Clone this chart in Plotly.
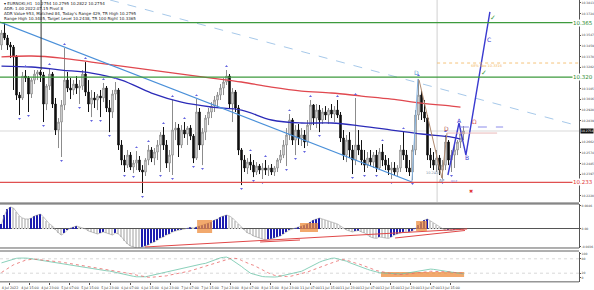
import plotly.graph_objects as go

# ---------------- data (EURNOKi, H1) ----------------
N = 155
bars = list(range(N))
first_open = 10.3465
high = [
 10.3589,10.3655,10.3548,10.3490,10.3465,10.3382,10.3076,10.3242,10.3258,10.3208,
 10.3192,10.3258,10.3258,10.3258,10.3242,10.3142,10.3275,10.3242,10.3027,10.2861,
 10.3010,10.3440,10.3242,10.3192,10.3175,10.3208,10.3175,10.3258,10.3324,10.3175,
 10.3093,10.3076,10.3060,10.3093,10.3151,10.3126,10.3010,10.3093,10.3159,10.3109,
 10.2679,10.2555,10.2597,10.2580,10.2514,10.2588,10.2547,10.2472,10.2530,10.2638,
 10.2621,10.2613,10.2679,10.2745,10.2787,10.2679,10.2597,10.3010,10.2828,10.2812,
 10.2803,10.2828,10.2795,10.2803,10.2729,10.3018,10.2944,10.2778,10.2886,10.2944,
 10.2993,10.3043,10.3076,10.3142,10.3192,10.3258,10.3225,10.3109,10.3093,10.2969,
 10.2613,10.2555,10.2530,10.2563,10.2514,10.2497,10.2481,10.2489,10.2514,10.2472,
 10.2481,10.2464,10.2530,10.2597,10.2679,10.2778,10.2894,10.2861,10.2803,10.2812,
 10.2778,10.2762,10.2845,10.3010,10.2977,10.2977,10.2969,10.2944,10.2960,10.2944,
 10.2977,10.2960,10.3010,10.2911,10.2762,10.2721,10.2745,10.2638,10.3027,10.2762,
 10.2679,10.2597,10.2580,10.2597,10.2580,10.2597,10.2613,10.2646,10.2555,10.2530,
 10.2497,10.2497,10.2472,10.2638,10.2745,10.2597,10.2514,10.2638,10.2927,10.3184,
 10.3093,10.3010,10.2886,10.2613,10.2580,10.2597,10.2555,10.2514,10.2721,10.2679,
 10.2597,10.2638,10.2679,10.2778,10.2795]
low = [
 10.3424,10.3506,10.3424,10.3357,10.3093,10.3010,10.2886,10.3010,10.3159,10.2911,
 10.3027,10.3142,10.3175,10.3159,10.2828,10.2927,10.3093,10.2944,10.2721,10.2613,
 10.2539,10.2927,10.3076,10.3018,10.3051,10.3060,10.2977,10.3093,10.3043,10.2911,
 10.2869,10.2944,10.2927,10.2869,10.2993,10.2911,10.2745,10.2861,10.3010,10.2597,
 10.2472,10.2415,10.2448,10.2431,10.2406,10.2431,10.2415,10.2241,10.2382,10.2472,
 10.2497,10.2472,10.2514,10.2415,10.2597,10.2448,10.2415,10.2390,10.2679,10.2539,
 10.2613,10.2696,10.2638,10.2679,10.2489,10.2514,10.2597,10.2472,10.2679,10.2803,
 10.2861,10.2911,10.2944,10.3010,10.3051,10.3134,10.2944,10.2828,10.2911,10.2555,
 10.2307,10.2415,10.2398,10.2431,10.2373,10.2390,10.2398,10.2357,10.2390,10.2382,
 10.2390,10.2382,10.2415,10.2489,10.2530,10.2464,10.2679,10.2638,10.2555,10.2638,
 10.2630,10.2613,10.2630,10.2762,10.2803,10.2778,10.2745,10.2812,10.2845,10.2812,
 10.2861,10.2828,10.2861,10.2663,10.2514,10.2497,10.2530,10.2398,10.2472,10.2555,
 10.2472,10.2415,10.2448,10.2464,10.2448,10.2415,10.2431,10.2464,10.2431,10.2390,
 10.2357,10.2390,10.2382,10.2415,10.2514,10.2415,10.2382,10.2348,10.2555,10.2845,
 10.2845,10.2828,10.2514,10.2448,10.2431,10.2415,10.2390,10.2357,10.2431,10.2472,
 10.2415,10.2448,10.2555,10.2613,10.2679]
close = [
 10.3564,10.3523,10.3465,10.3448,10.3366,10.3051,10.3027,10.3208,10.3192,10.3060,
 10.3175,10.3225,10.3242,10.3217,10.2977,10.3126,10.3225,10.2977,10.2762,10.2828,
 10.2969,10.3175,10.3109,10.3093,10.3142,10.3109,10.3126,10.3225,10.3076,10.2977,
 10.3027,10.3010,10.3043,10.3027,10.3109,10.2944,10.2911,10.3060,10.3093,10.2638,
 10.2514,10.2472,10.2555,10.2456,10.2489,10.2514,10.2431,10.2415,10.2514,10.2597,
 10.2530,10.2580,10.2638,10.2721,10.2638,10.2489,10.2555,10.2762,10.2778,10.2638,
 10.2762,10.2729,10.2778,10.2712,10.2530,10.2911,10.2638,10.2745,10.2861,10.2911,
 10.2960,10.3010,10.3051,10.3109,10.3159,10.3208,10.2977,10.3076,10.2944,10.2597,
 10.2514,10.2448,10.2497,10.2472,10.2415,10.2464,10.2431,10.2448,10.2431,10.2448,
 10.2415,10.2448,10.2514,10.2555,10.2638,10.2721,10.2845,10.2679,10.2762,10.2696,
 10.2721,10.2663,10.2803,10.2969,10.2861,10.2927,10.2845,10.2911,10.2886,10.2927,
 10.2894,10.2927,10.2886,10.2696,10.2555,10.2679,10.2597,10.2514,10.2638,10.2597,
 10.2514,10.2472,10.2530,10.2497,10.2555,10.2448,10.2580,10.2514,10.2472,10.2431,
 10.2448,10.2415,10.2448,10.2597,10.2555,10.2448,10.2415,10.2597,10.2886,10.3051,
 10.2911,10.2861,10.2555,10.2514,10.2472,10.2530,10.2431,10.2472,10.2663,10.2514,
 10.2555,10.2597,10.2663,10.2729,10.2754]

# moving averages (read every 10 bars)
ma_bars = [0, 10, 20, 30, 40, 50, 60, 70, 80, 90, 100, 110, 120, 130, 140, 150, 153]
ma_red = [10.3366, 10.3374, 10.3357, 10.3324, 10.3291, 10.3258, 10.3225, 10.3192, 10.3159,
          10.3117, 10.3084, 10.3068, 10.3043, 10.3018, 10.2985, 10.2960, 10.2952]
ma_blue = [10.3291, 10.3283, 10.3258, 10.3233, 10.3175, 10.3068, 10.2993, 10.2952, 10.2927,
           10.2845, 10.2820, 10.2820, 10.2795, 10.2762, 10.2729, 10.2704, 10.2687]

# Awesome Oscillator
ao = [
 0.0010,0.0028,0.0040,0.0044,0.0042,0.0034,0.0026,0.0022,0.0020,0.0020,
 0.0022,0.0026,0.0028,0.0030,0.0024,0.0016,0.0010,0.0006,-0.0002,-0.0008,
 -0.0012,-0.0008,-0.0002,0.0002,0.0004,0.0006,0.0004,0.0002,0.0000,-0.0004,
 -0.0006,-0.0008,-0.0010,-0.0008,-0.0006,-0.0008,-0.0010,-0.0012,-0.0008,-0.0010,
 -0.0016,-0.0024,-0.0030,-0.0034,-0.0036,-0.0038,-0.0038,-0.0036,-0.0034,-0.0032,
 -0.0028,-0.0026,-0.0022,-0.0018,-0.0016,-0.0012,-0.0010,-0.0006,-0.0004,-0.0002,
 -0.0001,0.0000,0.0002,0.0003,0.0002,0.0004,0.0006,0.0008,0.0010,0.0012,
 0.0014,0.0018,0.0020,0.0024,0.0026,0.0028,0.0026,0.0022,0.0016,0.0010,
 0.0004,-0.0002,-0.0008,-0.0010,-0.0014,-0.0016,-0.0018,-0.0020,-0.0022,-0.0021,
 -0.0020,-0.0018,-0.0016,-0.0014,-0.0010,-0.0006,-0.0002,0.0000,0.0002,0.0004,
 0.0006,0.0008,0.0010,0.0014,0.0018,0.0020,0.0022,0.0020,0.0018,0.0016,
 0.0014,0.0012,0.0010,0.0006,0.0002,-0.0002,-0.0004,-0.0006,-0.0004,-0.0003,
 -0.0006,-0.0008,-0.0012,-0.0016,-0.0018,-0.0019,-0.0016,-0.0017,-0.0018,-0.0019,
 -0.0016,-0.0012,-0.0010,-0.0008,-0.0006,-0.0007,-0.0006,-0.0004,0.0002,0.0008,
 0.0014,0.0018,0.0020,0.0016,0.0012,0.0008,0.0004,0.0000,-0.0003,-0.0002,
 -0.0003,-0.0002,-0.0002,-0.0001,-0.0001]

# Stochastic
stoch_k = [
 63,67,72,76,79,82,83,84,83,82, 80,78,76,73,71,69,67,65,62,60,
 58,56,54,52,49,47,45,43,41,39, 38,36,35,33,32,30,29,26,22,19,
 16,13,11,9,7,5,4,3,5,8, 11,13,15,18,21,24,28,31,34,37,
 40,43,46,49,51,54,57,59,61,66, 70,75,80,84,86,87,82,74,66,58,
 48,38,29,20,16,12,9,6,5,4, 4,4,5,8,11,14,16,19,21,24,
 28,34,41,47,54,61,66,71,75,79, 82,83,80,77,75,70,64,59,54,48,
 44,40,36,32,28,25,22,21,20,19, 18,18,17,17,18,20,22,23,25,28,
 31,34,36,37,36,34,33,30,27,24, 22,20,19,18,17]
stoch_d = [
 23,30,38,47,55,60,65,70,74,76, 78,79,77,76,75,73,72,70,69,67,
 66,64,62,60,58,56,54,52,50,48, 46,44,42,40,37,35,33,31,29,27,
 25,23,20,18,16,12,9,7,5,3, 3,4,5,5,6,9,12,14,16,18,
 20,23,27,30,34,37,40,44,49,53, 57,61,64,68,72,76,80,83,81,80,
 73,67,61,57,53,46,40,33,26,21, 16,11,10,8,7,6,6,9,12,14,
 16,20,25,30,35,40,45,50,54,58, 63,67,71,74,77,74,69,65,62,59,
 54,49,44,39,35,31,28,25,23,20, 18,16,15,14,15,16,17,18,19,21,
 23,25,26,28,28,28,28,27,27,26, 25,23,22,21,20]

time_labels = ["4 Jul 2022", "4 Jul 15:00", "4 Jul 23:00", "5 Jul 07:00", "5 Jul 15:00",
               "5 Jul 23:00", "6 Jul 07:00", "6 Jul 15:00", "6 Jul 23:00", "7 Jul 07:00",
               "7 Jul 15:00", "7 Jul 23:00", "8 Jul 07:00", "8 Jul 15:00", "8 Jul 23:00",
               "11 Jul 07:00", "11 Jul 15:00", "11 Jul 23:00", "12 Jul 07:00", "12 Jul 15:00",
               "12 Jul 23:00", "13 Jul 07:00", "13 Jul 15:00"]

# drawing objects (bar position, price)
level_green = [10.365, 10.320]
level_red = [10.233]
trend_main_x = [-0.5, 136.8];  trend_main_y = [10.3655, 10.2332]
trend_dash_x = [36.2, 192.5];  trend_dash_y = [10.3837, 10.2795]
leg_d_x = [136.8, 138.8];      leg_d_y = [10.2332, 10.3184]
brown_x = [139.2, 146.8, 148.5]; brown_y = [10.3175, 10.2365, 10.2737]
abc_x = [148.8, 152.5, 154.8, 162.8]; abc_y = [10.2390, 10.2820, 10.2555, 10.3738]
fib_x = [145.2, 192.5];        fib_y = [10.3316, 10.3316]
tgt_x = [152.8, 167.2];        tgt_y = [10.2787, 10.2787]
pink_x = [148.5, 165.2];       pink_y = [10.2737, 10.2737]
vline_bar = 145.2
tick_bar = 13.2; tick_y = [10.3258, 10.3837]

ao_div1_x = [47.8, 155.2]; ao_div1_y = [-0.0036, 0.0]
ao_div2_x = [86.2, 99.5];  ao_div2_y = [-0.0026, -0.0022]
ao_div3_x = [131.2, 154.5]; ao_div3_y = [-0.0018, -0.0003]
ao_boxes = [(65.2, 70.2, -0.0008, 0.0018), (99.5, 105.5, -0.0006, 0.0012), (138.2, 141.8, -0.0004, 0.0016)]
stoch_box = (126.5, 154.2, 4, 25)

FONT = "DejaVu Sans"
open_ = [first_open] + close[:-1]

fig = go.Figure()

fig.add_trace(go.Candlestick(
    x=bars, open=open_, high=high, low=low, close=close,
    increasing=dict(line=dict(color="#8c8c8c", width=1), fillcolor="#ffffff"),
    decreasing=dict(line=dict(color="#111111", width=1), fillcolor="#111111"),
    whiskerwidth=0, xaxis="x", yaxis="y", hoverinfo="skip", showlegend=False))

def line(xs, ys, color, width=1.0, dash="solid", xa="x", ya="y", shape="linear"):
    fig.add_trace(go.Scatter(x=xs, y=ys, mode="lines", xaxis=xa, yaxis=ya,
                             line=dict(color=color, width=width, dash=dash, shape=shape),
                             hoverinfo="skip", showlegend=False))

line(ma_bars, ma_red, "#e0484f", 1.3, shape="spline")
line(ma_bars, ma_blue, "#2b2bb8", 1.3, shape="spline")
line(trend_main_x, trend_main_y, "#4a90d9", 1.2)
line(trend_dash_x, trend_dash_y, "#9cc2e6", 0.9, "dash")
line(leg_d_x, leg_d_y, "#7fb0e0", 1.0)
line(brown_x, brown_y, "#b08a70", 1.0)
line(abc_x, abc_y, "#3a3ad0", 1.4)
line(fib_x, fib_y, "#f2b45a", 0.8, "dot")
line(tgt_x, tgt_y, "#8080e8", 0.9, "dash")
line(pink_x, pink_y, "#e8b0b0", 0.9)
line([tick_bar, tick_bar], tick_y, "#333333", 1.0)

# fractal arrows derived from highs / lows
up_x, up_y, dn_x, dn_y = [], [], [], []
for i in range(2, N - 2):
    if high[i] > max(high[i - 2], high[i - 1], high[i + 1], high[i + 2]):
        up_x.append(i); up_y.append(high[i] + 0.0030)
    if low[i] < min(low[i - 2], low[i - 1], low[i + 1], low[i + 2]):
        dn_x.append(i); dn_y.append(low[i] - 0.0030)
fig.add_trace(go.Scatter(x=up_x, y=up_y, mode="markers", xaxis="x", yaxis="y",
                         marker=dict(symbol="triangle-up", size=2.6, color="#6464e0"),
                         hoverinfo="skip", showlegend=False))
fig.add_trace(go.Scatter(x=dn_x, y=dn_y, mode="markers", xaxis="x", yaxis="y",
                         marker=dict(symbol="triangle-down", size=2.6, color="#6464e0"),
                         hoverinfo="skip", showlegend=False))

# AO pane
ao_colors = ["#1c1cb0" if (i == 0 or ao[i] > ao[i - 1]) else "#cfcfcf" for i in range(N)]
fig.add_trace(go.Bar(x=bars, y=ao, width=0.45, marker=dict(color=ao_colors, line=dict(width=0)),
                     xaxis="x2", yaxis="y2", hoverinfo="skip", showlegend=False))
line(bars, ao, "#9a9a9a", 0.6, xa="x2", ya="y2")
line(ao_div1_x, ao_div1_y, "#e04848", 1.0, xa="x2", ya="y2")
line(ao_div2_x, ao_div2_y, "#e04848", 1.0, xa="x2", ya="y2")
line(ao_div3_x, ao_div3_y, "#e04848", 1.0, xa="x2", ya="y2")

# Stochastic pane
line(bars, stoch_k, "#6cc4a8", 0.8, xa="x3", ya="y3")
line(bars, stoch_d, "#e86a6a", 0.8, "dot", xa="x3", ya="y3")

shapes = []
for lv in level_green:
    shapes.append(dict(type="line", xref="x domain", yref="y", x0=0, x1=1, y0=lv, y1=lv,
                       line=dict(color="#3d9a3d", width=1.2)))
for lv in level_red:
    shapes.append(dict(type="line", xref="x domain", yref="y", x0=0, x1=1, y0=lv, y1=lv,
                       line=dict(color="#e05050", width=1.2)))
shapes.append(dict(type="line", xref="x domain", yref="y", x0=0, x1=1, y0=close[-1], y1=close[-1],
                   line=dict(color="#cfcfcf", width=0.8), layer="below"))
shapes.append(dict(type="line", xref="x", yref="y domain", x0=vline_bar, x1=vline_bar, y0=0, y1=1,
                   line=dict(color="#c4c4c4", width=0.8), layer="below"))
for (x0, x1, y0, y1) in ao_boxes:
    shapes.append(dict(type="rect", xref="x2", yref="y2", x0=x0, x1=x1, y0=y0, y1=y1,
                       fillcolor="rgba(238,140,60,0.75)", line=dict(width=0)))
shapes.append(dict(type="rect", xref="x3", yref="y3", x0=stoch_box[0], x1=stoch_box[1],
                   y0=stoch_box[2], y1=stoch_box[3], fillcolor="rgba(238,140,60,0.75)",
                   line=dict(width=0), layer="below"))
for lv in [80, 20]:
    shapes.append(dict(type="line", xref="x3 domain", yref="y3", x0=0, x1=1, y0=lv, y1=lv,
                       line=dict(color="#c8c8c8", width=0.7, dash="dot"), layer="below"))
# pane borders
for yp in [0.2801, 0.2766, 0.1206, 0.1099, 0.0005]:
    shapes.append(dict(type="line", xref="paper", yref="paper", x0=0, x1=1, y0=yp, y1=yp,
                       line=dict(color="#606060", width=1)))

annotations = []
def ann(x, y, text, color, size=6, xref="x", yref="y", **kw):
    annotations.append(dict(x=x, y=y, xref=xref, yref=yref, text=text, showarrow=False,
                            font=dict(family=FONT, size=size, color=color), **kw))

ann(138.2, 10.3235, "D", "#5b9bd5", 6)
ann(148.2, 10.2775, "D", "#b05858", 6)
ann(152.5, 10.2840, "A", "#3a3ad0", 6)
ann(155.2, 10.2535, "B", "#3a3ad0", 6)
ann(162.5, 10.3514, "C", "#3a3ad0", 6)
ann(157.8, 10.2830, "Ω", "#e06060", 6)
ann(163.8, 10.3688, "✓", "#3d9a3d", 7)
ann(160.8, 10.3235, "✓", "#3d9a3d", 7)
ann(156.5, 10.2258, "✖", "#e03030", 5)
ann(146.8, 10.2345, "AP", "#6078a0", 4)
ann(150.8, 10.2338, "pcz", "#8a8ae0", 3.5)
ann(143.8, 10.2406, "10.2415", "#8090a8", 3.5)
ann(161.5, 10.3293, "68% fibo 10.3316", "#f2b45a", 3.5)

for lv in level_green:
    ann(1, lv, "%.3f" % lv, "#2e8b2e", 5.5, xref="paper", xanchor="right", xshift=15,
        bgcolor="#ffffff", borderpad=0)
for lv in level_red:
    ann(1, lv, "%.3f" % lv, "#e03030", 5.5, xref="paper", xanchor="right", xshift=15,
        bgcolor="#ffffff", borderpad=0)
ann(1, close[-1], "%.4f" % close[-1], "#ffffff", 3, xref="paper", xanchor="right", xshift=15,
    bgcolor="#111111", borderpad=0)

header = ["▾ EURNOKi,H1  10.2754 10.2795 10.2822 10.2754",
          "ADR: 1.00 2022.07.15 Pivot 8",
          "ADR Value 953, Matched 84, Today's Range 429, TR High 10.2795",
          "Range High 10.3405, Target Level 10.2438, TR 100 Right 10.3365"]
for k, t in enumerate(header):
    ann(0.004, 0.989 - 0.0185 * k, t, "#222222", 4, xref="paper", yref="paper",
        xanchor="left", yanchor="middle")

# right price-scale ticks (step 0.00885), leaving room for the level labels
marked = level_green + level_red + [close[-1]]
price_ticks = [round(10.2220 + 0.00885 * k, 4) for k in range(19)]
price_ticks = [t for t in price_ticks if min(abs(t - m) for m in marked) > 0.0035]

axis_font = dict(family=FONT, size=3, color="#444444")
common_x = dict(range=[-0.5, 192.5], showgrid=False, zeroline=False, showline=False,
                fixedrange=True, automargin=False)
fig.update_layout(
    width=594, height=290,
    margin=dict(l=0, r=15, t=0, b=8),
    paper_bgcolor="#ffffff", plot_bgcolor="#ffffff",
    showlegend=False, bargap=0,
    font=dict(family=FONT),
    xaxis=dict(domain=[0, 1], anchor="y", showticklabels=False,
               rangeslider=dict(visible=False), **common_x),
    xaxis2=dict(domain=[0, 1], anchor="y2", matches="x", showticklabels=False, **common_x),
    xaxis3=dict(domain=[0, 1], anchor="y3", matches="x", showticklabels=True,
                tickvals=[2.83 + 6.667 * k for k in range(len(time_labels))],
                ticktext=time_labels, tickfont=dict(family=FONT, size=3.3, color="#333333"),
                tickangle=0, ticks="outside", ticklen=2, tickcolor="#555555", **common_x),
    yaxis=dict(domain=[0.2837, 1], range=[10.2167, 10.3837], anchor="x", side="right",
               tickvals=price_ticks, tickformat=".4f", tickfont=axis_font,
               showgrid=False, zeroline=False, showline=True, linecolor="#555555",
               ticks="outside", ticklen=1, tickcolor="#555555", automargin=False, fixedrange=True),
    yaxis2=dict(domain=[0.1206, 0.2766], range=[-0.0038, 0.0050], anchor="x2", side="right",
                tickvals=[0.0046, 0.0, -0.0036], ticktext=["0.0046", "0.00", "-0.0036"],
                tickfont=axis_font, showgrid=False, zeroline=True, zerolinecolor="#555555",
                zerolinewidth=1, showline=True, linecolor="#555555", ticks="outside",
                ticklen=1, tickcolor="#555555", automargin=False, fixedrange=True),
    yaxis3=dict(domain=[0, 0.1064], range=[-16.7, 108.3], anchor="x3", side="right",
                tickvals=[0, 20, 80, 100], tickfont=axis_font, showgrid=False,
                zeroline=False, showline=True, linecolor="#555555", ticks="outside",
                ticklen=1, tickcolor="#555555", automargin=False, fixedrange=True),
    shapes=shapes, annotations=annotations,
)

fig.write_html("out.html")
